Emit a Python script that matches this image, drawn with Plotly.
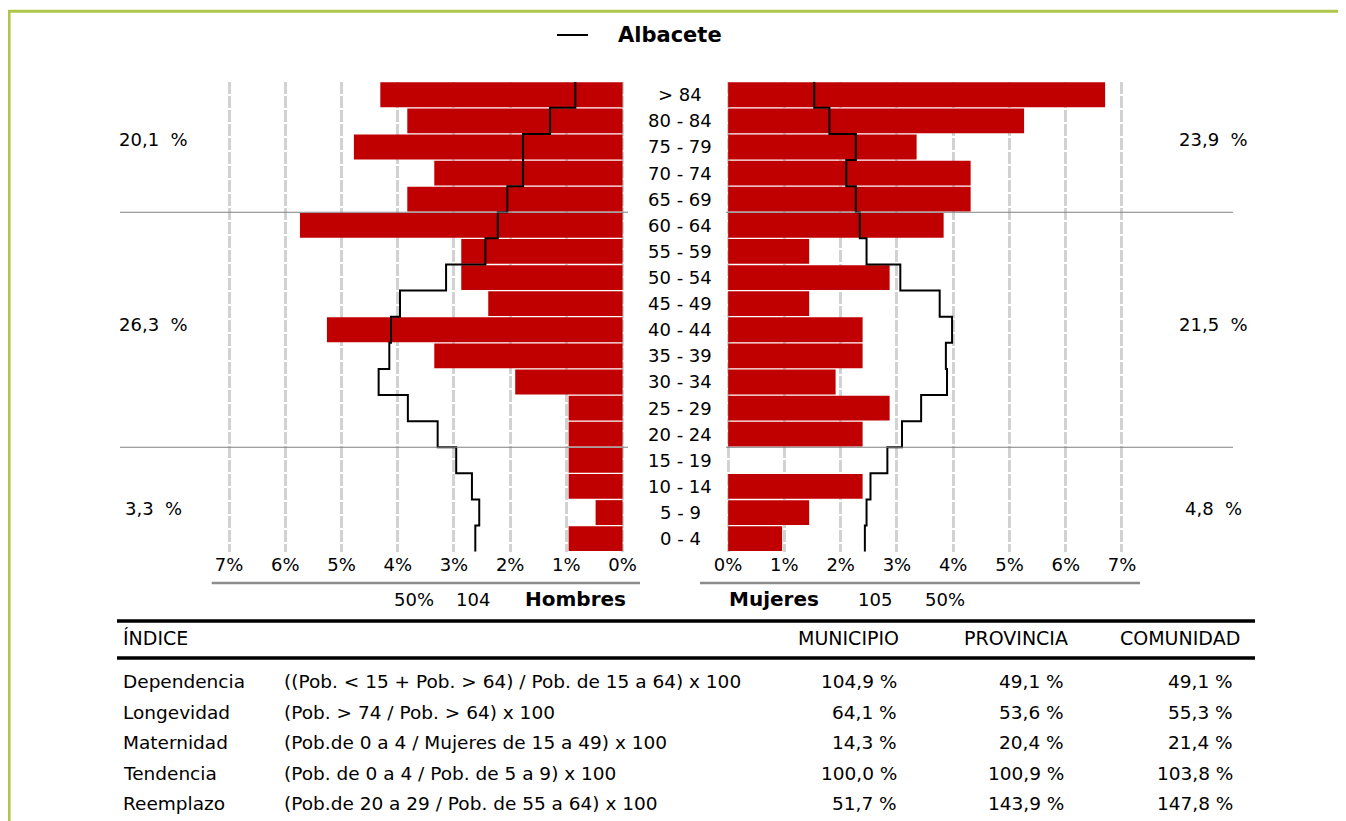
import plotly.graph_objects as go

# ---------------- data ----------------
age_groups = ["0 - 4", "5 - 9", "10 - 14", "15 - 19", "20 - 24", "25 - 29", "30 - 34",
              "35 - 39", "40 - 44", "45 - 49", "50 - 54", "55 - 59", "60 - 64",
              "65 - 69", "70 - 74", "75 - 79", "80 - 84", "> 84"]
hombres_pct = [0.96, 0.48, 0.96, 0.96, 0.96, 0.96, 1.91, 3.35, 5.26, 2.39, 2.87, 2.87,
               5.74, 3.83, 3.35, 4.78, 3.83, 4.31]
mujeres_pct = [0.96, 1.44, 2.39, 0.00, 2.39, 2.87, 1.91, 2.39, 2.39, 1.44, 2.87, 1.44,
               3.83, 4.31, 4.31, 3.35, 5.26, 6.70]
albacete_hombres = [2.62, 2.55, 2.68, 2.96, 3.29, 3.82, 4.34, 4.15, 4.12, 3.96, 3.14, 2.44,
                    2.22, 2.05, 1.77, 1.77, 1.29, 0.84]
albacete_mujeres = [2.43, 2.46, 2.53, 2.83, 3.09, 3.43, 3.89, 3.87, 3.98, 3.76, 3.06, 2.46,
                    2.34, 2.27, 2.10, 2.27, 1.80, 1.53]
tick_vals = [0, 1, 2, 3, 4, 5, 6, 7]

side_left = ["20,1  %", "26,3  %", "3,3  %"]
side_right = ["23,9  %", "21,5  %", "4,8  %"]

total_hombres = "104"
total_mujeres = "105"
pct_hombres = "50%"
pct_mujeres = "50%"

table_header = ["ÍNDICE", "MUNICIPIO", "PROVINCIA", "COMUNIDAD"]
indices = ["Dependencia", "Longevidad", "Maternidad", "Tendencia", "Reemplazo"]
formulas = ["((Pob. < 15 + Pob. > 64) / Pob. de 15 a 64) x 100",
            "(Pob. > 74 / Pob. > 64) x 100",
            "(Pob.de 0 a 4 / Mujeres de 15 a 49) x 100",
            "(Pob. de 0 a 4 / Pob. de 5 a 9) x 100",
            "(Pob.de 20 a 29 / Pob. de 55 a 64) x 100"]
municipio = ["104,9 %", "64,1 %", "14,3 %", "100,0 %", "51,7 %"]
provincia = ["49,1 %", "53,6 %", "20,4 %", "100,9 %", "143,9 %"]
comunidad = ["49,1 %", "55,3 %", "21,4 %", "103,8 %", "147,8 %"]

# ---------------- layout helpers ----------------
W, H = 1346, 821
OFF = 8  # page body margin
FONT = "DejaVu Sans"
RED = "#C00000"
GRID = "#d2d2d2"
GREEN = "#AEC649"


def px(x):
    return (x - OFF) / W


def py(y):
    return 1 - (y - OFF) / H


rows = list(range(len(age_groups)))
step_y = [i - 0.5 for i in range(len(age_groups) + 1)]

fig = go.Figure()

fig.add_trace(go.Bar(x=hombres_pct, y=rows, orientation="h", marker_color=RED,
                     marker_line_width=0, width=0.95, xaxis="x", yaxis="y",
                     showlegend=False, name="Hombres"))
fig.add_trace(go.Bar(x=mujeres_pct, y=rows, orientation="h", marker_color=RED,
                     marker_line_width=0, width=0.95, xaxis="x2", yaxis="y",
                     showlegend=False, name="Mujeres"))
fig.add_trace(go.Scatter(x=albacete_hombres + [albacete_hombres[-1]], y=step_y,
                         mode="lines", line=dict(color="black", width=2, shape="vh"),
                         xaxis="x", yaxis="y", name="Albacete", showlegend=False))
fig.add_trace(go.Scatter(x=albacete_mujeres + [albacete_mujeres[-1]], y=step_y,
                         mode="lines", line=dict(color="black", width=2, shape="vh"),
                         xaxis="x2", yaxis="y", name="Albacete", showlegend=False))

axis_common = dict(tickvals=tick_vals, ticktext=[f"{v}%" for v in tick_vals],
                   showgrid=True, gridcolor=GRID, gridwidth=3, griddash="12px,2px",
                   zeroline=False, showline=False, ticks="",
                   tickfont=dict(family=FONT, size=18, color="black"),
                   fixedrange=True)

fig.update_layout(
    width=W, height=H,
    paper_bgcolor="white", plot_bgcolor="white",
    margin=dict(l=0, r=0, t=0, b=0, pad=0),
    font=dict(family=FONT, color="black"),
    barmode="overlay",
    xaxis=dict(domain=[px(211.7), px(640)], range=[7.31, -0.31], anchor="y",
               **axis_common),
    xaxis2=dict(domain=[px(700), px(1140)], range=[-0.5, 7.32], anchor="y",
                **axis_common),
    yaxis=dict(domain=[py(551.7), py(81.7)], range=[-0.5, 17.5],
               showticklabels=False, showgrid=False,
               zeroline=False, showline=False, ticks="", fixedrange=True),
    showlegend=False,
)

shapes = []
# green frame
shapes.append(dict(type="line", xref="paper", yref="paper", x0=0, x1=px(1345.5),
                   y0=py(11.3), y1=py(11.3), line=dict(color=GREEN, width=3)))
shapes.append(dict(type="line", xref="paper", yref="paper", x0=0.0008, x1=0.0008,
                   y0=py(10), y1=0, line=dict(color=GREEN, width=3)))
shapes.append(dict(type="line", xref="paper", yref="paper", x0=px(1344), x1=px(1344),
                   y0=py(10), y1=0, line=dict(color=GREEN, width=3)))
# legend sample line
shapes.append(dict(type="line", xref="paper", yref="paper", x0=px(557), x1=px(588),
                   y0=py(35), y1=py(35), line=dict(color="black", width=2)))
# group separators (between 60-64 / 65-69 and 15-19 / 20-24)
for yb in (12.5, 3.5):
    shapes.append(dict(type="line", xref="paper", yref="y", x0=px(120), x1=px(628),
                       y0=yb, y1=yb, line=dict(color="#808080", width=1)))
    shapes.append(dict(type="line", xref="paper", yref="y", x0=px(726), x1=px(1233),
                       y0=yb, y1=yb, line=dict(color="#808080", width=1)))
# axis baselines
shapes.append(dict(type="line", xref="paper", yref="paper", x0=px(211.7), x1=px(640),
                   y0=py(583), y1=py(583), line=dict(color="#8c8c8c", width=2.5)))
shapes.append(dict(type="line", xref="paper", yref="paper", x0=px(700), x1=px(1140),
                   y0=py(583), y1=py(583), line=dict(color="#8c8c8c", width=2.5)))
# table rules
shapes.append(dict(type="line", xref="paper", yref="paper", x0=px(117), x1=px(1255),
                   y0=py(621), y1=py(621), line=dict(color="black", width=3.5)))
shapes.append(dict(type="line", xref="paper", yref="paper", x0=px(117), x1=px(1255),
                   y0=py(658), y1=py(658), line=dict(color="black", width=3.5)))

ann = []


def text(x, y, s, size=18, anchor="center", bold=False, yref="paper"):
    ann.append(dict(x=x, y=y, xref="paper", yref=yref, text=s, showarrow=False,
                    xanchor=anchor, yanchor="middle",
                    font=dict(family=FONT, size=size, color="black",
                              weight="bold" if bold else "normal")))


# legend label
text(px(616), py(35), "Albacete", size=21, anchor="left", bold=True)

# age labels
for i, lab in enumerate(age_groups):
    text(px(680), i, lab, size=18, yref="y")

# side percentages
side_rows = [15.27, 8.2, 1.14]
for s, r in zip(side_left, side_rows):
    text(px(153), r, s, size=18, yref="y")
for s, r in zip(side_right, side_rows):
    text(px(1213), r, s, size=18, yref="y")

# totals row
text(px(414), py(599), pct_hombres, size=18)
text(px(473), py(599), total_hombres, size=18)
text(px(575), py(599), "Hombres", size=20, bold=True)
text(px(774), py(599), "Mujeres", size=20, bold=True)
text(px(875), py(599), total_mujeres, size=18)
text(px(945), py(599), pct_mujeres, size=18)

# table header
text(px(121), py(638), table_header[0], size=19, anchor="left")
text(px(848), py(638), table_header[1], size=19)
text(px(1016), py(638), table_header[2], size=19)
text(px(1180), py(638), table_header[3], size=19)

row_y = [681, 712, 742, 773, 803]
for yy, name, f, m, p, c in zip(row_y, indices, formulas, municipio, provincia, comunidad):
    text(px(121), py(yy), name, size=18.5, anchor="left")
    text(px(282), py(yy), f, size=18.5, anchor="left")
    text(px(899), py(yy), m, size=18.5, anchor="right")
    text(px(1066), py(yy), p, size=18.5, anchor="right")
    text(px(1235), py(yy), c, size=18.5, anchor="right")

fig.update_layout(shapes=shapes, annotations=ann)

fig.write_html("out.html")
